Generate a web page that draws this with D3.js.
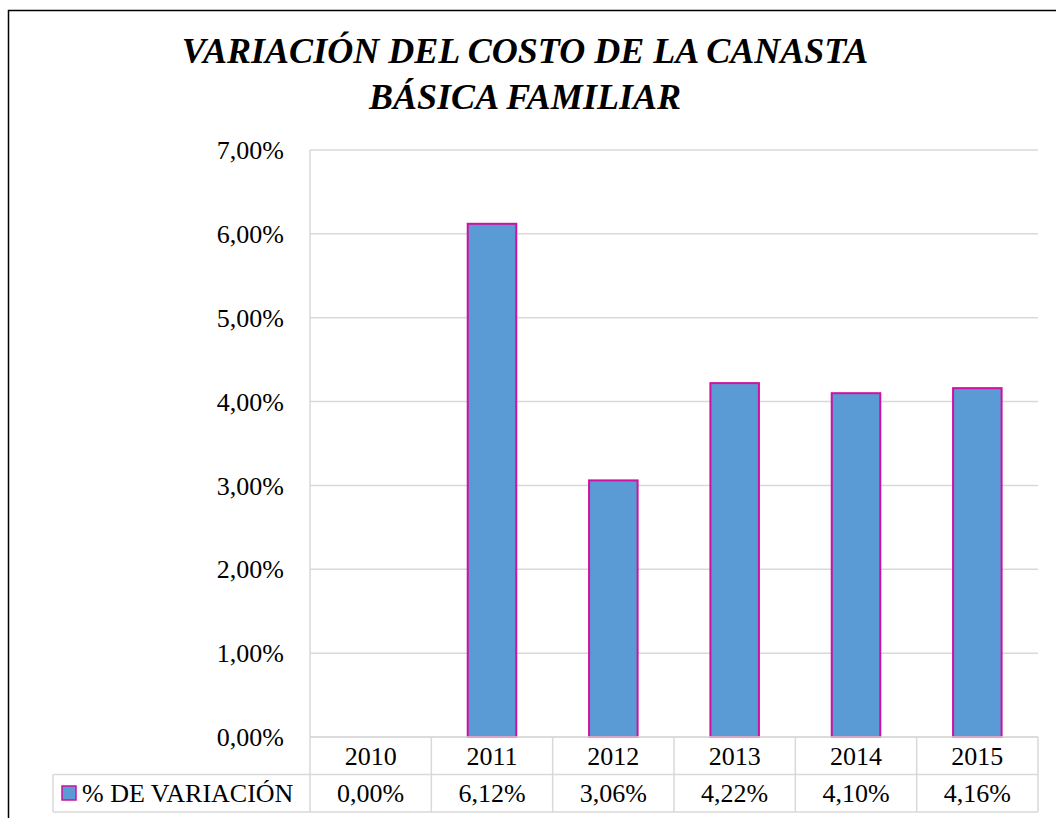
<!DOCTYPE html>
<html>
<head>
<meta charset="utf-8">
<script src="https://cdn.jsdelivr.net/npm/d3@7"></script>
<style>
  html, body { margin: 0; padding: 0; background: #fff; overflow: hidden; }
</style>
</head>
<body>
<svg id="chart" width="1056" height="818"></svg>
<script>
// data
const titleLines = ["VARIACIÓN DEL COSTO DE LA CANASTA", "BÁSICA FAMILIAR"];
const years = ["2010", "2011", "2012", "2013", "2014", "2015"];
const variacion = [0.00, 6.12, 3.06, 4.22, 4.10, 4.16];
const seriesName = "% DE VARIACIÓN";
const yTicks = [0, 1, 2, 3, 4, 5, 6, 7];

const fmt = v => v.toFixed(2).replace(".", ",") + "%";
const serif = "'Liberation Serif', 'Times New Roman', Times, 'DejaVu Serif', serif";
const labelSize = "26px";

const svg = d3.select("#chart")
  .attr("font-family", serif)
  .style("font-family", serif);
const plot = { left: 310, right: 1038, top: 150, bottom: 737 };
const rowH = 37.5;

// outer frame
svg.append("rect")
  .attr("x", 8.5).attr("y", 10.5)
  .attr("width", 1100).attr("height", 900)
  .attr("fill", "none").attr("stroke", "#000").attr("stroke-width", 1.5);

// title
svg.append("g").selectAll("text")
  .data(titleLines)
  .enter().append("text")
  .attr("x", 525)
  .attr("y", (d, i) => 63 + i * 46)
  .attr("text-anchor", "middle")
  .style("font-size", "36px")
  .style("font-style", "italic")
  .style("font-weight", "bold")
  .text(d => d);

const x = d3.scaleBand().domain(years).range([plot.left, plot.right]);
const y = d3.scaleLinear().domain([0, 7]).range([plot.bottom, plot.top]);

// gridlines
svg.append("g").selectAll("line")
  .data(yTicks)
  .enter().append("line")
  .attr("x1", plot.left).attr("x2", plot.right)
  .attr("y1", d => y(d)).attr("y2", d => y(d))
  .attr("stroke", "#d9d9d9").attr("stroke-width", 1.5);

// y axis labels
svg.append("g").selectAll("text")
  .data(yTicks)
  .enter().append("text")
  .attr("x", 284)
  .attr("y", d => y(d))
  .attr("dy", "0.35em")
  .attr("text-anchor", "end")
  .style("font-size", labelSize)
  .text(d => fmt(d));

// bars
const barW = x.bandwidth() * 0.4;
svg.append("g").selectAll("rect")
  .data(variacion)
  .enter().append("rect")
  .attr("x", (d, i) => x(years[i]) + (x.bandwidth() - barW) / 2)
  .attr("y", d => y(d))
  .attr("width", barW)
  .attr("height", d => plot.bottom - y(d))
  .attr("fill", "#5b9bd5")
  .attr("stroke", d => d > 0 ? "#d0109e" : "none")
  .attr("stroke-width", 2);

// data table
const t = svg.append("g");
const tableTop = plot.bottom, tableMid = plot.bottom + rowH, tableBot = plot.bottom + 2 * rowH;
const legendLeft = 53;
const gridColor = "#d9d9d9";

t.append("line").attr("x1", plot.left).attr("x2", plot.right)
  .attr("y1", tableTop).attr("y2", tableTop)
  .attr("stroke", gridColor).attr("stroke-width", 1.5);
t.append("line").attr("x1", legendLeft).attr("x2", plot.right)
  .attr("y1", tableMid).attr("y2", tableMid)
  .attr("stroke", gridColor).attr("stroke-width", 1.5);
t.append("line").attr("x1", legendLeft).attr("x2", plot.right)
  .attr("y1", tableBot).attr("y2", tableBot)
  .attr("stroke", gridColor).attr("stroke-width", 1.5);
t.append("line").attr("x1", legendLeft).attr("x2", legendLeft)
  .attr("y1", tableMid).attr("y2", tableBot)
  .attr("stroke", gridColor).attr("stroke-width", 1.5);
// plot left axis line continues through table
t.append("line").attr("x1", plot.left).attr("x2", plot.left)
  .attr("y1", plot.top).attr("y2", tableBot)
  .attr("stroke", gridColor).attr("stroke-width", 1.5);
t.selectAll(".vcol")
  .data(years)
  .enter().append("line")
  .attr("class", "vcol")
  .attr("x1", d => x(d) + x.bandwidth()).attr("x2", d => x(d) + x.bandwidth())
  .attr("y1", tableTop).attr("y2", tableBot)
  .attr("stroke", gridColor).attr("stroke-width", 1.5);

t.selectAll(".yr")
  .data(years)
  .enter().append("text")
  .attr("class", "yr")
  .attr("x", d => x(d) + x.bandwidth() / 2)
  .attr("y", tableTop + rowH / 2)
  .attr("dy", "0.35em")
  .attr("text-anchor", "middle")
  .style("font-size", labelSize)
  .text(d => d);

t.selectAll(".val")
  .data(variacion)
  .enter().append("text")
  .attr("class", "val")
  .attr("x", (d, i) => x(years[i]) + x.bandwidth() / 2)
  .attr("y", tableMid + rowH / 2)
  .attr("dy", "0.35em")
  .attr("text-anchor", "middle")
  .style("font-size", labelSize)
  .text(d => fmt(d));

// legend key
t.append("rect")
  .attr("x", 62).attr("y", tableMid + 11.5)
  .attr("width", 14).attr("height", 14)
  .attr("fill", "#5b9bd5").attr("stroke", "#d0109e").attr("stroke-width", 1.5);
t.append("text")
  .attr("x", 82)
  .attr("y", tableMid + rowH / 2)
  .attr("dy", "0.35em")
  .style("font-size", labelSize)
  .text(seriesName);
</script>
</body>
</html>
